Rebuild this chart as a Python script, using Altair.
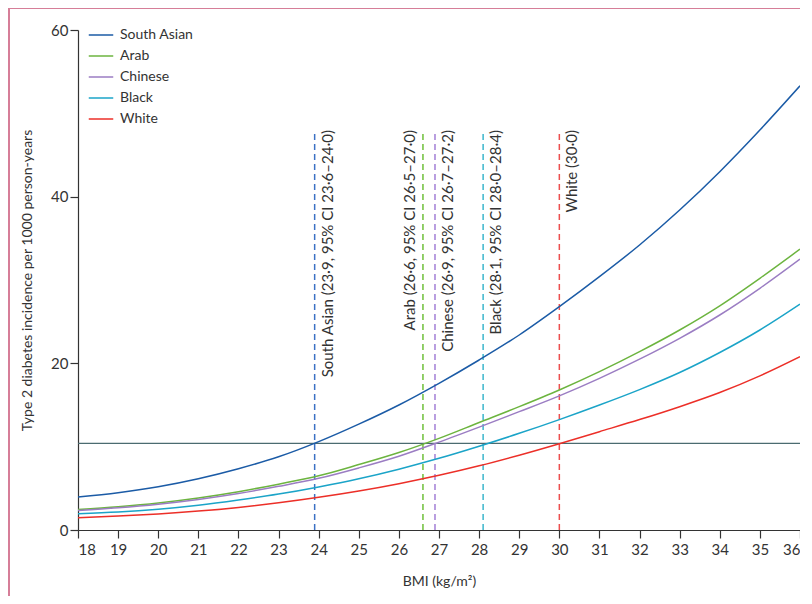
import altair as alt
import pandas as pd

# ---------------- data ----------------
bmi = list(range(18, 37))
south_asian = [3.95, 4.47, 5.19, 6.15, 7.35, 8.78, 10.6, 12.7, 15.0, 17.6, 20.4, 23.4, 26.8, 30.4, 34.2, 38.4, 43.0, 48.0, 53.3]
arab = [2.45, 2.80, 3.25, 3.85, 4.6, 5.5, 6.5, 7.85, 9.3, 11.0, 12.9, 14.8, 16.8, 19.0, 21.4, 24.0, 26.9, 30.2, 33.7]
chinese = [2.35, 2.67, 3.1, 3.67, 4.38, 5.24, 6.2, 7.45, 8.85, 10.55, 12.35, 14.2, 16.1, 18.2, 20.5, 23.0, 25.8, 29.0, 32.5]
black = [1.96, 2.15, 2.48, 2.96, 3.59, 4.31, 5.17, 6.15, 7.3, 8.6, 10.05, 11.6, 13.25, 15.0, 16.85, 18.9, 21.3, 24.0, 27.1]
white = [1.48, 1.68, 1.93, 2.27, 2.71, 3.26, 3.92, 4.68, 5.56, 6.56, 7.70, 8.98, 10.36, 11.8, 13.25, 14.8, 16.5, 18.5, 20.8]

groups = ["South Asian", "Arab", "Chinese", "Black", "White"]
series = [south_asian, arab, chinese, black, white]

cutoffs = [23.9, 26.6, 26.9, 28.1, 30.0]
cutoff_labels = [
    "South Asian (23·9, 95% CI 23·6–24·0)",
    "Arab (26·6, 95% CI 26·5–27·0)",
    "Chinese (26·9, 95% CI 26·7–27·2)",
    "Black (28·1, 95% CI 28·0–28·4)",
    "White (30·0)",
]
cutoff_top = 48
reference_incidence = 10.4

x_ticks = list(range(18, 37))
y_ticks = [0, 20, 40, 60]

# ---------------- styles ----------------
line_colors = ["#1b5ba6", "#6cb43f", "#9b7dc3", "#1ba4c8", "#ec2f28"]
dash_colors = ["#3b70c4", "#6fc03a", "#a27fd6", "#3cb6cc", "#ec4f4f"]
FONT = "Lato, sans-serif"

rows = []
for g, vals in zip(groups, series):
    for b, v in zip(bmi, vals):
        rows.append({"group": g, "bmi": b, "incidence": v})
curves = pd.DataFrame(rows)

cut_df = pd.DataFrame({
    "group": groups,
    "bmi": cutoffs,
    "label": cutoff_labels,
    "y0": [0] * 5,
    "y1": [cutoff_top] * 5,
})

ref_df = pd.DataFrame({"x0": [18], "x1": [36], "y": [reference_incidence]})

xscale = alt.Scale(domain=[18, 36], nice=False, zero=False)
yscale = alt.Scale(domain=[0, 60], nice=False)

lines = alt.Chart(curves).mark_line(strokeWidth=1.5, interpolate="monotone").encode(
    x=alt.X("bmi:Q", scale=xscale,
            axis=alt.Axis(values=x_ticks, title="BMI (kg/m²)", format="d",
                          grid=False, tickSize=8, labelPadding=4,
                          titlePadding=17)),
    y=alt.Y("incidence:Q", scale=yscale,
            axis=alt.Axis(values=y_ticks, title="Type 2 diabetes incidence per 1000 person-years",
                          grid=False, tickSize=8, labelPadding=2, titlePadding=16)),
    color=alt.Color("group:N",
                    scale=alt.Scale(domain=groups, range=line_colors),
                    sort=groups,
                    legend=alt.Legend(title=None, orient="none", legendX=10, legendY=-8,
                                      symbolType="stroke", symbolSize=600,
                                      symbolStrokeWidth=1.5, rowPadding=1,
                                      labelFontSize=14, labelFont=FONT,
                                      labelColor="#333333", labelOffset=6)),
)

rules = alt.Chart(cut_df).mark_rule(strokeDash=[6, 4], strokeWidth=1.5).encode(
    x="bmi:Q",
    y="y0:Q",
    y2="y1:Q",
    color=alt.Color("group:N", scale=alt.Scale(domain=groups, range=dash_colors), legend=None),
)

labels_right = alt.Chart(cut_df).transform_filter(
    alt.datum.group != "Arab"
).mark_text(
    angle=270, align="right", baseline="top", dy=6, fontSize=15, font=FONT, color="#333333"
).encode(
    x="bmi:Q",
    y="y1:Q",
    text="label:N",
)

labels_left = alt.Chart(cut_df).transform_filter(
    alt.datum.group == "Arab"
).mark_text(
    angle=270, align="right", baseline="bottom", dy=-5, fontSize=15, font=FONT, color="#333333"
).encode(
    x="bmi:Q",
    y="y1:Q",
    text="label:N",
)

ref_line = alt.Chart(ref_df).mark_rule(color="#4b6b70", strokeWidth=1.3).encode(
    x="x0:Q", x2="x1:Q", y="y:Q"
)

border_left = alt.Chart(ref_df).mark_rule(color="#d67e98", strokeWidth=2).encode(
    x=alt.value(-69), y=alt.value(-22), y2=alt.value(580)
)
border_top = alt.Chart(ref_df).mark_rule(color="#d67e98", strokeWidth=2).encode(
    x=alt.value(-69), x2=alt.value(740), y=alt.value(-22)
)

chart = alt.layer(ref_line, rules, lines, labels_right, labels_left, border_left, border_top).resolve_scale(
    color="independent"
).properties(
    width=722, height=500,
    autosize=alt.AutoSizeParams(type="none"),
    padding={"left": 70, "top": 22, "right": 0, "bottom": 66},
).configure_view(stroke=None).configure_axis(
    domainColor="#333333", tickColor="#333333", labelColor="#333333", titleColor="#333333",
    labelFont=FONT, titleFont=FONT, labelFontSize=15, titleFontSize=14,
    titleFontWeight="normal", domainWidth=1.2, tickWidth=1.2,
)

chart.save("out.html", embed_options={"renderer": "svg", "actions": False})
